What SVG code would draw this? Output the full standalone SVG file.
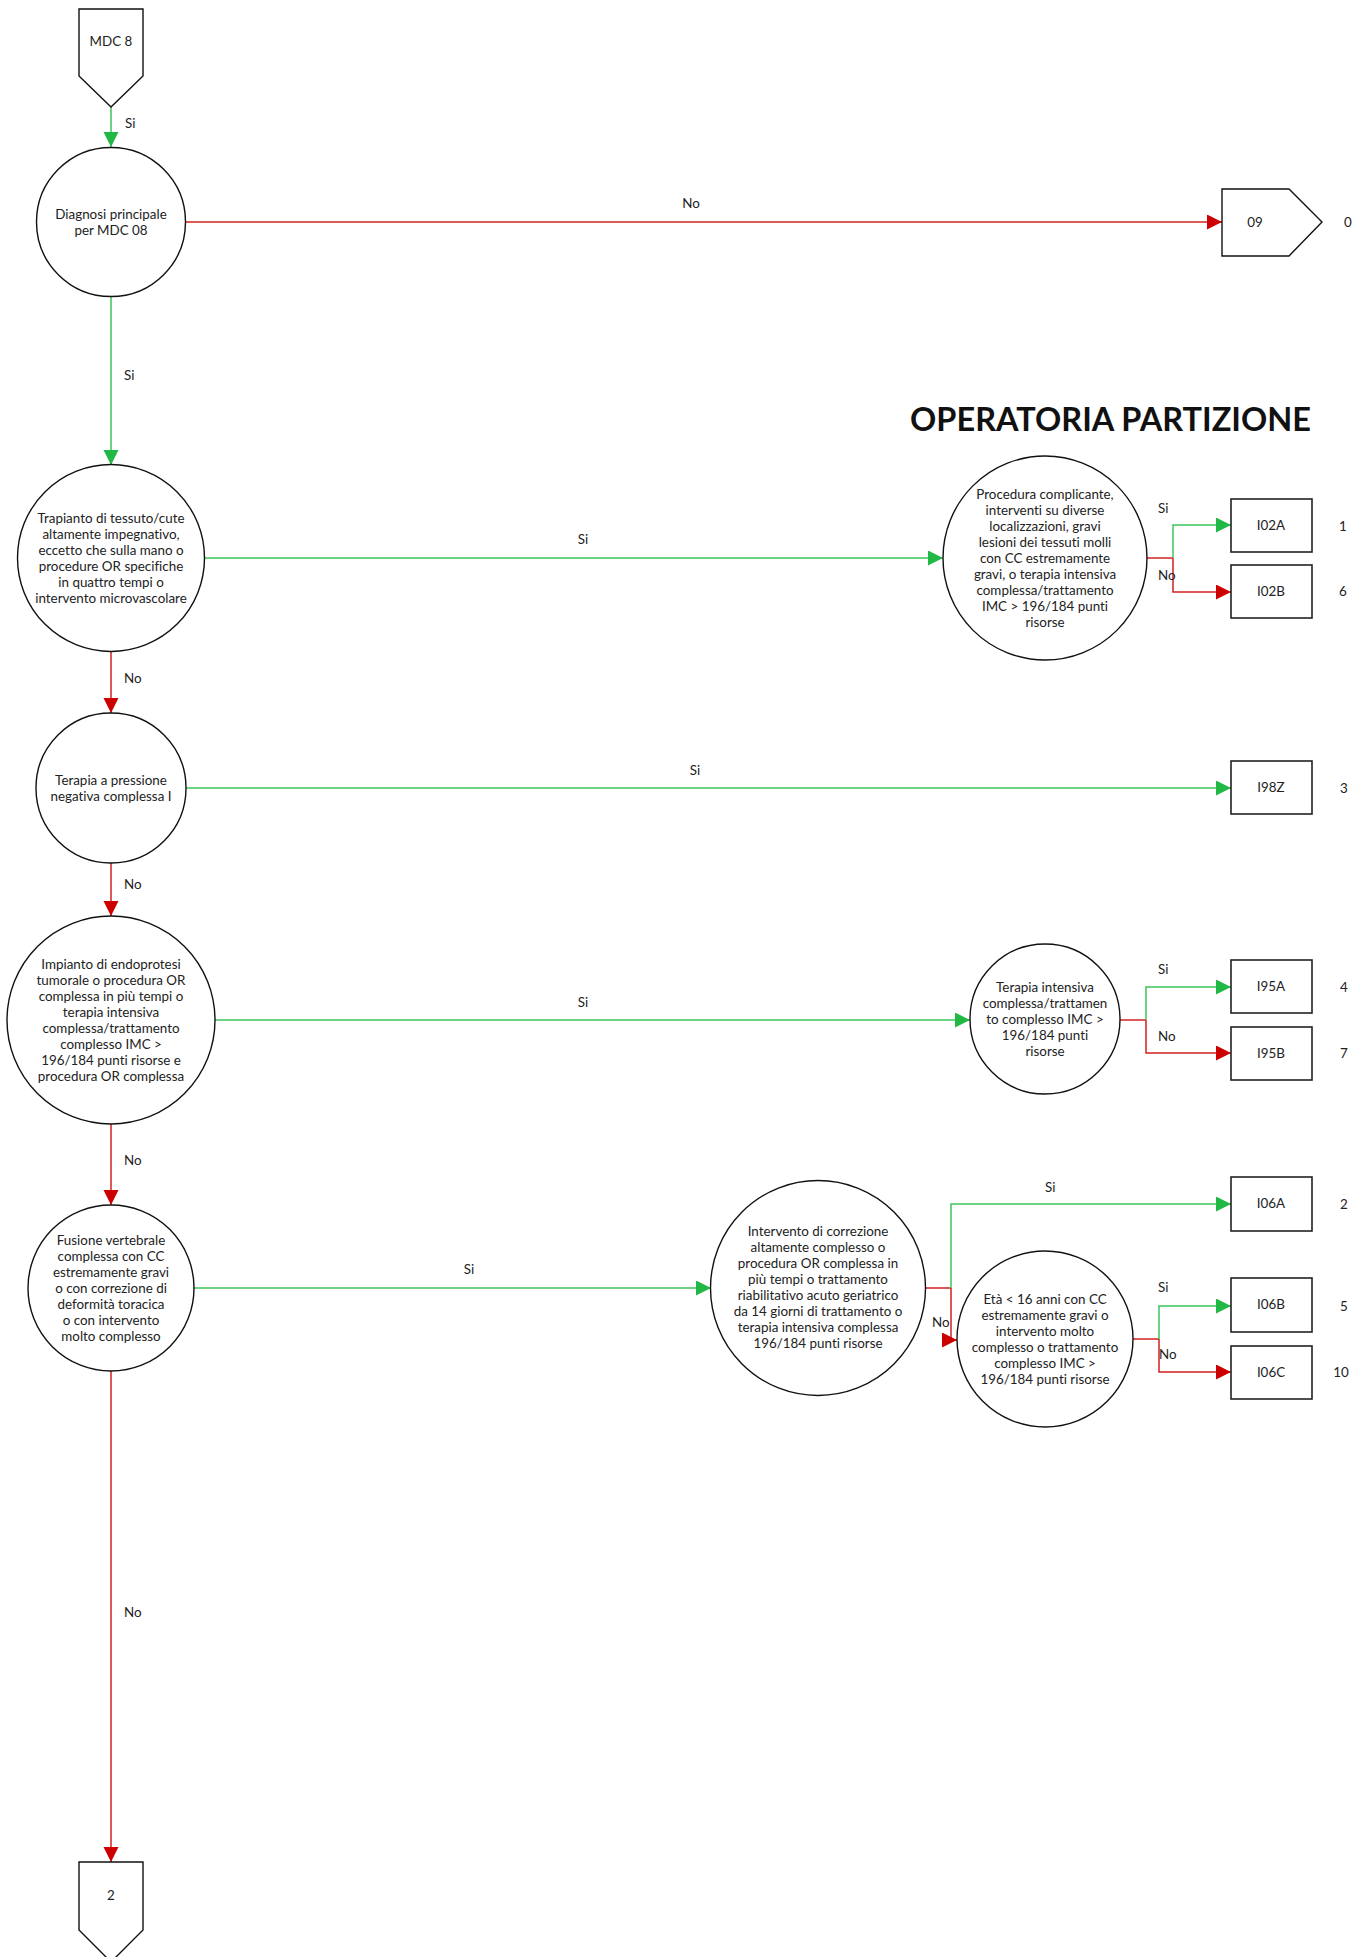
<svg xmlns="http://www.w3.org/2000/svg" width="1369" height="1957" viewBox="0 0 1369 1957">
<style>
text{font-family:Lato,"Noto Sans","Liberation Sans",sans-serif;font-size:13.4px;fill:#222;font-variant-ligatures:none}
.n text{text-anchor:middle}
.shape{fill:#fff;stroke:#111;stroke-width:1.4}
.box{fill:#fff;stroke:#222;stroke-width:1.6}
.g{fill:none;stroke:#3cc55a;stroke-width:1.5}
.r{fill:none;stroke:#d42020;stroke-width:1.5}
.title{font-size:32.5px;font-weight:bold;fill:#111}
.lbl{fill:#222}
</style>
<defs>
<marker id="ag" markerUnits="userSpaceOnUse" markerWidth="16" markerHeight="16" refX="15" refY="7.5" orient="auto">
<path d="M0,0 L15,7.5 L0,15 z" fill="#22b845"/>
</marker>
<marker id="ar" markerUnits="userSpaceOnUse" markerWidth="16" markerHeight="16" refX="15" refY="7.5" orient="auto">
<path d="M0,0 L15,7.5 L0,15 z" fill="#cc0000"/>
</marker>
</defs>
<rect width="1369" height="1957" fill="#fff"/>

<g id="connectors">
<path class="g" d="M111,107 V147" marker-end="url(#ag)"/>
<path class="r" d="M185,222 H1222" marker-end="url(#ar)"/>
<path class="g" d="M111,297 V465" marker-end="url(#ag)"/>
<path class="g" d="M204,558 H943" marker-end="url(#ag)"/>
<path class="r" d="M1147,558 H1173"/>
<path class="g" d="M1173,558 V525 H1231" marker-end="url(#ag)"/>
<path class="r" d="M1173,558 V592 H1231" marker-end="url(#ar)"/>
<path class="r" d="M111,652 V713" marker-end="url(#ar)"/>
<path class="g" d="M186,788 H1231" marker-end="url(#ag)"/>
<path class="r" d="M111,863 V916" marker-end="url(#ar)"/>
<path class="g" d="M215,1020 H970" marker-end="url(#ag)"/>
<path class="r" d="M1120,1020 H1146"/>
<path class="g" d="M1146,1020 V987 H1231" marker-end="url(#ag)"/>
<path class="r" d="M1146,1020 V1053 H1231" marker-end="url(#ar)"/>
<path class="r" d="M111,1124 V1205" marker-end="url(#ar)"/>
<path class="g" d="M193,1288 H711" marker-end="url(#ag)"/>
<path class="r" d="M926,1288 H951"/>
<path class="g" d="M951,1288 V1204 H1231" marker-end="url(#ag)"/>
<path class="r" d="M951,1288 V1340 H957" marker-end="url(#ar)"/>
<path class="r" d="M1133,1339 H1159"/>
<path class="g" d="M1159,1339 V1306 H1231" marker-end="url(#ag)"/>
<path class="r" d="M1159,1339 V1372 H1231" marker-end="url(#ar)"/>
<path class="r" d="M111,1371 V1862" marker-end="url(#ar)"/>
<g class="lbl">
<text x="125" y="128">Si</text>
<text x="691" y="208" text-anchor="middle">No</text>
<text x="124" y="380">Si</text>
<text x="583" y="544" text-anchor="middle">Si</text>
<text x="1158" y="513">Si</text>
<text x="1158" y="580">No</text>
<text x="124" y="683">No</text>
<text x="695" y="775" text-anchor="middle">Si</text>
<text x="124" y="889">No</text>
<text x="583" y="1007" text-anchor="middle">Si</text>
<text x="1158" y="974">Si</text>
<text x="1158" y="1041">No</text>
<text x="124" y="1165">No</text>
<text x="469" y="1274" text-anchor="middle">Si</text>
<text x="1045" y="1192">Si</text>
<text x="932" y="1327">No</text>
<text x="1158" y="1292">Si</text>
<text x="1159" y="1359">No</text>
<text x="124" y="1617">No</text>
</g>
</g>

<text class="title" x="1311" y="431" text-anchor="end">OPERATORIA PARTIZIONE</text>

<g id="mdc8" class="n">
<polygon class="shape" points="79,9 143,9 143,76 111,107 79,76"/>
<text x="111" y="46">MDC 8</text>
</g>
<g id="diagnosi" class="n">
<circle class="shape" cx="111" cy="222" r="74.5"/>
<text x="111" y="219">Diagnosi principale</text>
<text x="111" y="235">per MDC 08</text>
</g>
<g id="out09" class="n">
<polygon class="shape" points="1222,189 1289,189 1322,222 1289,256 1222,256"/>
<text x="1255" y="227">09</text>
<text x="1348" y="227">0</text>
</g>
<g id="trapianto" class="n">
<circle class="shape" cx="111" cy="558" r="93.5"/>
<text x="111" y="523">Trapianto di tessuto/cute</text>
<text x="111" y="539">altamente impegnativo,</text>
<text x="111" y="555">eccetto che sulla mano o</text>
<text x="111" y="571">procedure OR specifiche</text>
<text x="111" y="587">in quattro tempi o</text>
<text x="111" y="603">intervento microvascolare</text>
</g>
<g id="procedura" class="n">
<circle class="shape" cx="1045" cy="558" r="102"/>
<text x="1045" y="499">Procedura complicante,</text>
<text x="1045" y="515">interventi su diverse</text>
<text x="1045" y="531">localizzazioni, gravi</text>
<text x="1045" y="547">lesioni dei tessuti molli</text>
<text x="1045" y="563">con CC estremamente</text>
<text x="1045" y="579">gravi, o terapia intensiva</text>
<text x="1045" y="595">complessa/trattamento</text>
<text x="1045" y="611">IMC &gt; 196/184 punti</text>
<text x="1045" y="627">risorse</text>
</g>
<g id="i02a" class="n">
<rect class="box" x="1231" y="499" width="81" height="53"/>
<text x="1271" y="530">I02A</text>
<text x="1343" y="531">1</text>
</g>
<g id="i02b" class="n">
<rect class="box" x="1231" y="565" width="81" height="53"/>
<text x="1271" y="596">I02B</text>
<text x="1343" y="596">6</text>
</g>
<g id="terapia_pressione" class="n">
<circle class="shape" cx="111" cy="788" r="75"/>
<text x="111" y="785">Terapia a pressione</text>
<text x="111" y="801">negativa complessa I</text>
</g>
<g id="i98z" class="n">
<rect class="box" x="1231" y="761" width="81" height="53"/>
<text x="1271" y="792">I98Z</text>
<text x="1344" y="793">3</text>
</g>
<g id="impianto" class="n">
<circle class="shape" cx="111" cy="1020" r="104"/>
<text x="111" y="969">Impianto di endoprotesi</text>
<text x="111" y="985">tumorale o procedura OR</text>
<text x="111" y="1001">complessa in più tempi o</text>
<text x="111" y="1017">terapia intensiva</text>
<text x="111" y="1033">complessa/trattamento</text>
<text x="111" y="1049">complesso IMC &gt;</text>
<text x="111" y="1065">196/184 punti risorse e</text>
<text x="111" y="1081">procedura OR complessa</text>
</g>
<g id="terapia_intensiva" class="n">
<circle class="shape" cx="1045" cy="1019" r="75"/>
<text x="1045" y="992">Terapia intensiva</text>
<text x="1045" y="1008">complessa/trattamen</text>
<text x="1045" y="1024">to complesso IMC &gt;</text>
<text x="1045" y="1040">196/184 punti</text>
<text x="1045" y="1056">risorse</text>
</g>
<g id="i95a" class="n">
<rect class="box" x="1231" y="960" width="81" height="53"/>
<text x="1271" y="991">I95A</text>
<text x="1344" y="992">4</text>
</g>
<g id="i95b" class="n">
<rect class="box" x="1231" y="1027" width="81" height="53"/>
<text x="1271" y="1058">I95B</text>
<text x="1344" y="1058">7</text>
</g>
<g id="fusione" class="n">
<circle class="shape" cx="111" cy="1288" r="83"/>
<text x="111" y="1245">Fusione vertebrale</text>
<text x="111" y="1261">complessa con CC</text>
<text x="111" y="1277">estremamente gravi</text>
<text x="111" y="1293">o con correzione di</text>
<text x="111" y="1309">deformità toracica</text>
<text x="111" y="1325">o con intervento</text>
<text x="111" y="1341">molto complesso</text>
</g>
<g id="intervento" class="n">
<circle class="shape" cx="818" cy="1288" r="107.5"/>
<text x="818" y="1236">Intervento di correzione</text>
<text x="818" y="1252">altamente complesso o</text>
<text x="818" y="1268">procedura OR complessa in</text>
<text x="818" y="1284">più tempi o trattamento</text>
<text x="818" y="1300">riabilitativo acuto geriatrico</text>
<text x="818" y="1316">da 14 giorni di trattamento o</text>
<text x="818" y="1332">terapia intensiva complessa</text>
<text x="818" y="1348">196/184 punti risorse</text>
</g>
<g id="i06a" class="n">
<rect class="box" x="1231" y="1177" width="81" height="54"/>
<text x="1271" y="1208">I06A</text>
<text x="1344" y="1209">2</text>
</g>
<g id="eta" class="n">
<circle class="shape" cx="1045" cy="1339" r="88"/>
<text x="1045" y="1304">Età &lt; 16 anni con CC</text>
<text x="1045" y="1320">estremamente gravi o</text>
<text x="1045" y="1336">intervento molto</text>
<text x="1045" y="1352">complesso o trattamento</text>
<text x="1045" y="1368">complesso IMC &gt;</text>
<text x="1045" y="1384">196/184 punti risorse</text>
</g>
<g id="i06b" class="n">
<rect class="box" x="1231" y="1278" width="81" height="54"/>
<text x="1271" y="1309">I06B</text>
<text x="1344" y="1311">5</text>
</g>
<g id="i06c" class="n">
<rect class="box" x="1231" y="1346" width="81" height="53"/>
<text x="1271" y="1377">I06C</text>
<text x="1341" y="1377">10</text>
</g>
<g id="out2" class="n">
<polygon class="shape" points="79,1862 143,1862 143,1930 111,1962 79,1930"/>
<text x="111" y="1900">2</text>
</g>
</svg>
